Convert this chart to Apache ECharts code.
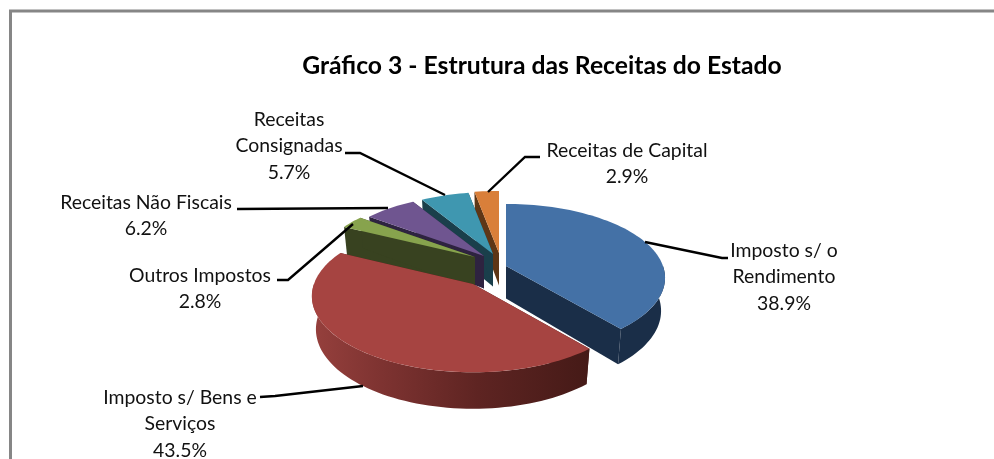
<!DOCTYPE html>
<html><head><meta charset="utf-8">
<style>html,body{margin:0;padding:0;background:#fff}#c{width:994px;height:459px}</style>
<script src="https://cdn.jsdelivr.net/npm/echarts@6/dist/echarts.min.js"></script>
</head><body><div id="c"></div>
<script>
const categories = ['Imposto s/ o Rendimento','Imposto s/ Bens e Serviços','Outros Impostos','Receitas Não Fiscais','Receitas Consignadas','Receitas de Capital'];
const shares = [38.9,43.5,2.8,6.2,5.7,2.9];
const labelLines = [['Imposto s/ o','Rendimento'],['Imposto s/ Bens e','Serviços'],['Outros Impostos'],['Receitas Não Fiscais'],['Receitas','Consignadas'],['Receitas de Capital']];

const chartTitle = 'Gráfico 3 - Estrutura das Receitas do Estado';
const FONT = 'Lato, Carlito, sans-serif';
const R = 157, RY = 72, K = 0.16, DEPTH = 32.5, BOTTOM = 0.975;
const centers = [[506,266],[473,284],[475,257],[484,256],[493,254],[499,253]];
const radiusScaleX = [1,1.013,1,1,1,1];
const radiusScaleY = [1,1.03,1,1,1,1];
const topColors = ['#4471a6','#a64441','#87a34d','#6f5590','#3f97b0','#d97f3a'];
const wallColors = ['#1a2e48','#4a1b18','#384220','#2e2340','#1a3f4b','#5e3616'];
const labelAnchors = [[784,237],[180,384],[200,262],[146,189],[289,106],[627,137]];
const leaders = [
  [[645,242],[722,258],[728,258]],
  [[363,386],[275,396],[260,397]],
  [[353,224],[288,280],[277,280]],
  [[388,208],[237,209]],
  [[445,195],[360,153],[345,153]],
  [[488,192],[525,157],[540,157]]
];
const order = [5,4,3,2,1,0];

function project(i, deg, bottom, rr) {
  const a = deg*Math.PI/180, X = Math.sin(a)*rr, Y = Math.cos(a)*rr;
  const s = 1/(1+K*Y), b = bottom ? BOTTOM : 1, c = centers[i];
  return [c[0]+R*radiusScaleX[i]*X*s*b, c[1]-RY*radiusScaleY[i]*Y*s*b+(bottom?DEPTH*s:0)];
}
function arc(i, a0, a1, bottom) {
  const n = Math.max(2, Math.ceil(Math.abs(a1-a0)/2)), pts = [];
  for (let k=0;k<=n;k++) pts.push(project(i, a0+(a1-a0)*k/n, bottom, 1));
  return pts;
}
const total = shares.reduce((a,b)=>a+b,0);
const startAngle = shares.map((_,i)=>shares.slice(0,i).reduce((a,b)=>a+b,0)/total*360);

function renderItem(params, api) {
  const i = api.value(0), a0 = startAngle[i], a1 = a0 + api.value(1)/total*360;
  const kids = [];
  const apexT = project(i,0,false,0), apexB = project(i,0,true,0);
  const wall = a => ({type:'polygon',shape:{points:[apexT,project(i,a,false,1),project(i,a,true,1),apexB]},style:{fill:wallColors[i]}});
  kids.push(wall(a0), wall(a1));
  const v0 = Math.max(a0,90), v1 = Math.min(a1,270);
  if (v1 > v0) {
    const fill = i===1
      ? new echarts.graphic.LinearGradient(0,0,1,0,[{offset:0,color:'#96403d'},{offset:.25,color:'#7e3331'},{offset:.6,color:'#5e2422'},{offset:1,color:'#451a17'}])
      : wallColors[i];
    kids.push({type:'polygon',shape:{points:arc(i,v0,v1,false).concat(arc(i,v1,v0,true))},style:{fill}});
  }
  kids.push({type:'polygon',shape:{points:[apexT].concat(arc(i,a0,a1,false))},style:{fill:topColors[i]}});
  return {type:'group',children:kids};
}
function renderLabels(params, api) {
  const i = api.value(0);
  const lines = labelLines[i].concat([api.value(1).toFixed(1)+'%']);
  return {type:'group',children:[
    {type:'polyline',shape:{points:leaders[i]},style:{stroke:'#000',lineWidth:2.4,fill:null}},
    {type:'text',x:labelAnchors[i][0],y:labelAnchors[i][1],style:{text:lines.join('\n'),font:'19.4px '+FONT,fill:'#111',align:'center',verticalAlign:'top',lineHeight:26.5}}
  ]};
}
const dataRows = order.map(i=>[i,shares[i],categories[i]]);
const chart = echarts.init(document.getElementById('c'),null,{renderer:'canvas'});
chart.setOption({
  animation:false,
  backgroundColor:'#fff',
  title:{text:chartTitle,left:537,top:49,textAlign:'center',textStyle:{fontFamily:FONT,fontWeight:'bold',fontSize:24.7,color:'#000'}},
  graphic:[{type:'rect',shape:{x:10.5,y:11,width:1000,height:500},style:{fill:'none',stroke:'#868686',lineWidth:3},silent:true}],
  series:[
    {type:'custom',coordinateSystem:'none',renderItem,data:dataRows,encode:{value:[1]},silent:true,z:2},
    {type:'custom',coordinateSystem:'none',renderItem:renderLabels,data:dataRows,encode:{value:[1]},silent:true,z:3}
  ]
});
</script></body></html>
